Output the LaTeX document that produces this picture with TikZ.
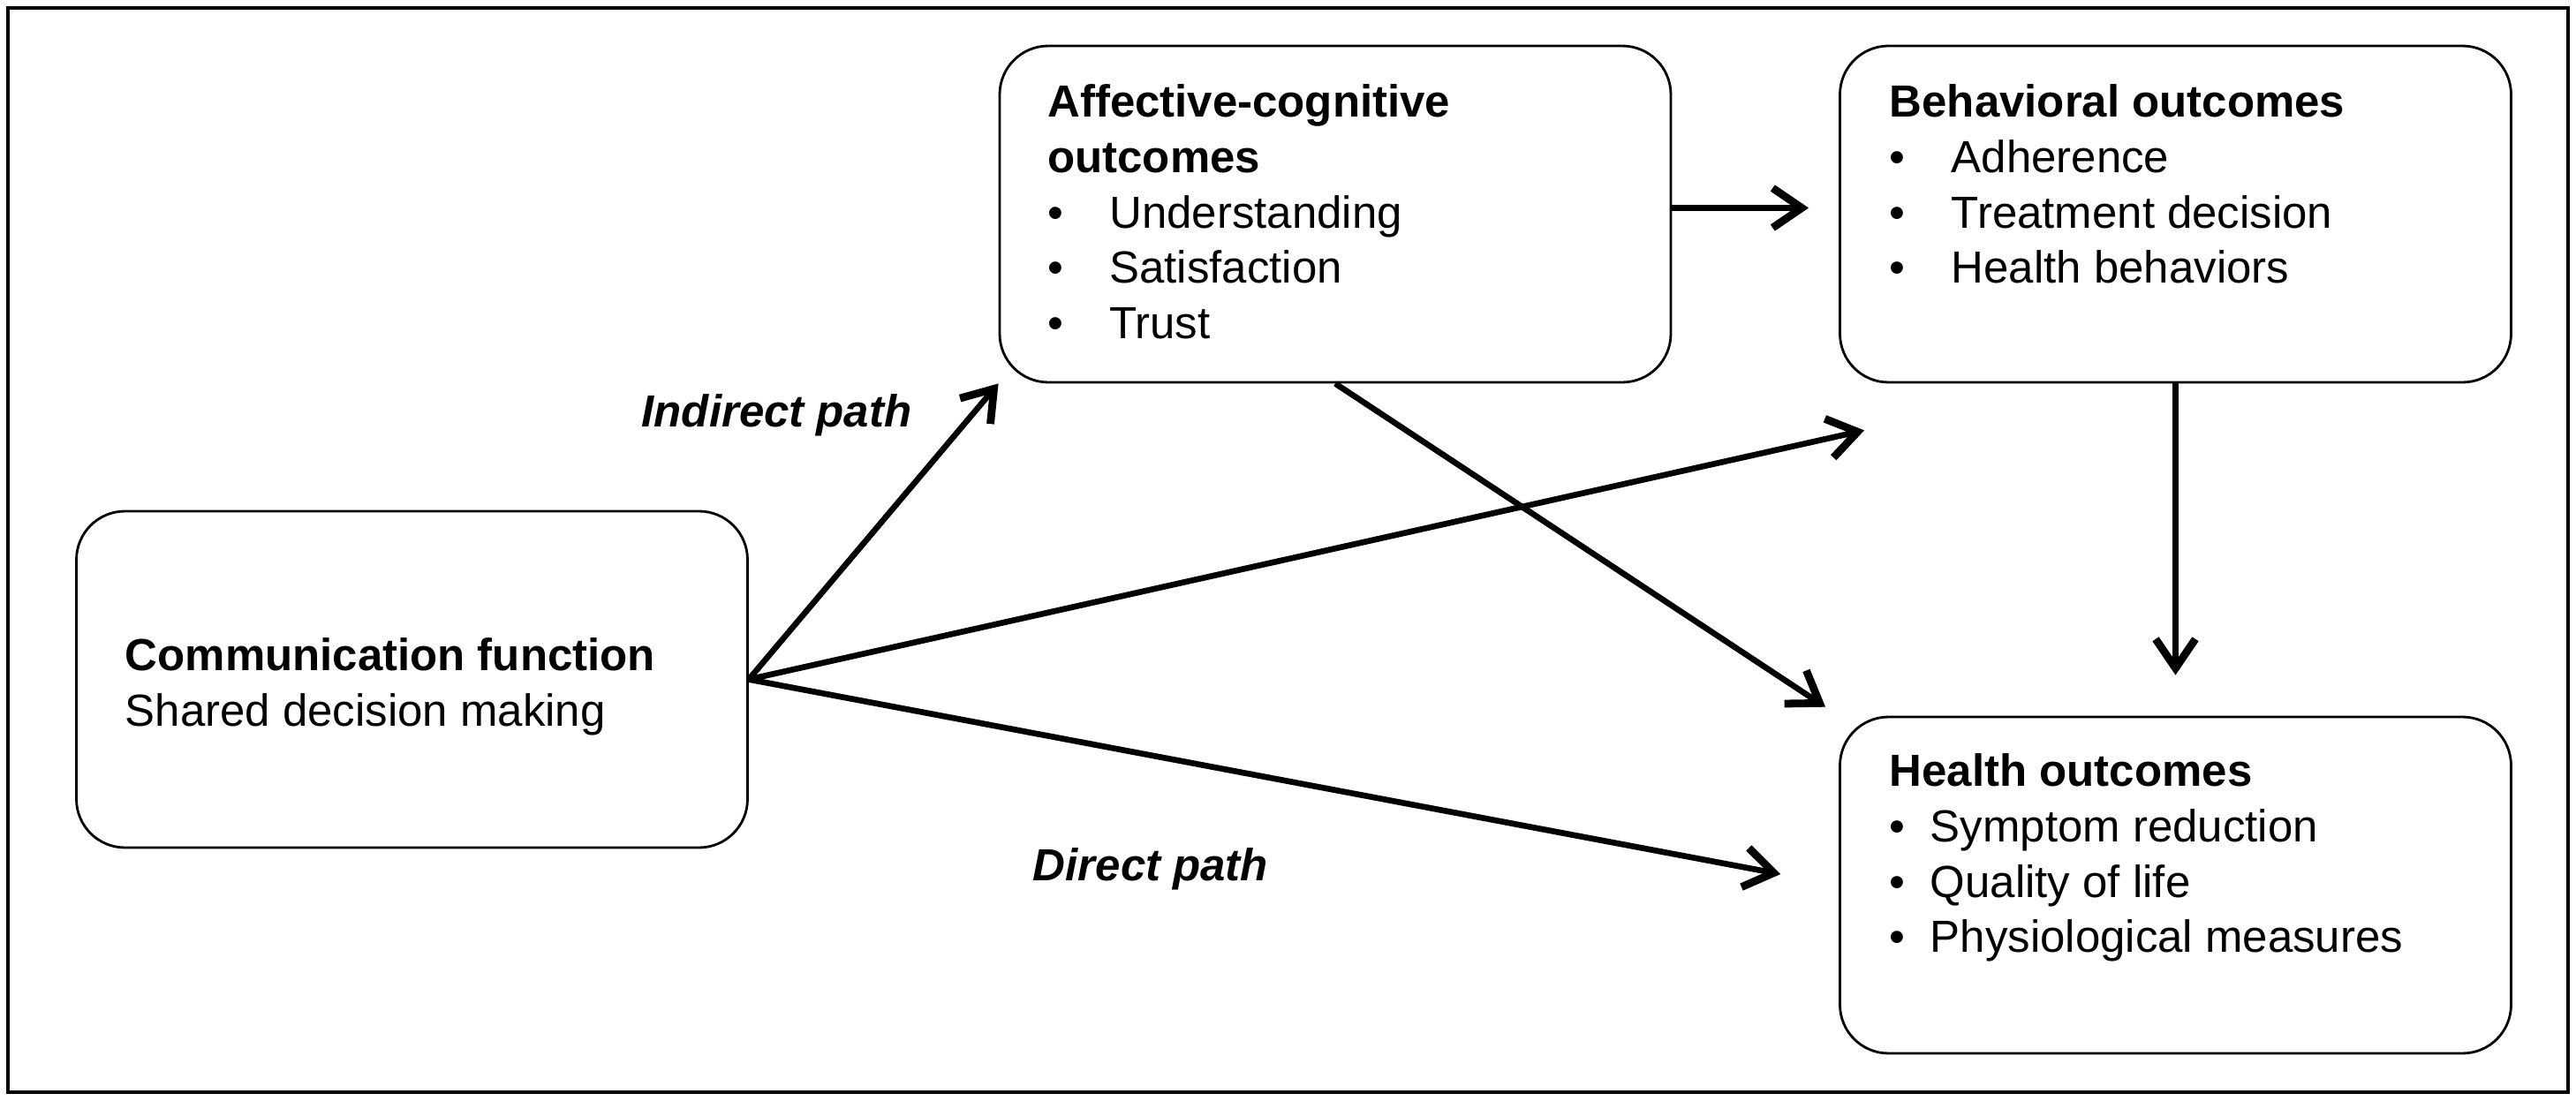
\documentclass[tikz,border=0pt]{standalone}
\usepackage{fontspec}
\setmainfont{Liberation Sans}
\usepackage{tikz}
\usetikzlibrary{arrows.meta,positioning,calc}
\newcommand{\itm}[2][0.70cm]{\makebox[#1][l]{\textbullet}#2}

\begin{document}
\begin{tikzpicture}[
    box/.style={draw,line width=0.8pt,rounded corners=0.55cm,
                minimum width=7.6cm,minimum height=3.81cm,inner sep=0pt},
    boxtext/.style={font=\fontsize{14.5}{17.9}\selectfont,inner sep=0pt,align=left},
    lbl/.style={font=\fontsize{14.5}{17.9}\selectfont\bfseries\itshape,inner sep=0pt},
    link/.style={line width=1.9pt,
                 -{Straight Barb[length=3.3mm,width=4.5mm,line width=2.5pt]}}
  ]
      \useasboundingbox (0,0) rectangle (29.17,-12.47);
      \draw[line width=1.4pt] (0.09,-0.09) rectangle (29.08,-12.37);
      % boxes
      \node[box] (comm) at (4.665,-7.695) {};
      \node[box] (aff) at (15.12,-2.425) {};
      \node[box] (beh) at (24.635,-2.425) {};
      \node[box] (hea) at (24.635,-10.025) {};
      \node[boxtext,right=0.56cm of comm.west,yshift=-0.08cm] (commtext)
        {\textbf{Communication function}\\Shared decision making};
      \node[boxtext,below right=0.44cm and 0.55cm of aff.north west] (afftext)
        {\textbf{Affective-cognitive}\\\textbf{outcomes}\\
         \itm{Understanding}\\\itm{Satisfaction}\\\itm{Trust}};
      \node[boxtext,below right=0.44cm and 0.57cm of beh.north west] (behtext)
        {\textbf{Behavioral outcomes}\\\itm{Adherence}\\
         \itm{Treatment decision}\\\itm{Health behaviors}};
      \node[boxtext,below right=0.42cm and 0.57cm of hea.north west] (heatext)
        {\textbf{Health outcomes}\\\itm[0.46cm]{Symptom reduction}\\
         \itm[0.46cm]{Quality of life}\\\itm[0.46cm]{Physiological measures}};
      % path labels
      \node[lbl,anchor=base] (indirect) at (8.795,-4.83) {Indirect path};
      \node[lbl,anchor=base] (direct) at (13.03,-9.97) {Direct path};
      % connectors
      \coordinate (behin) at ([shift={(0.29,-0.53)}]beh.south west);
      \draw[link] (comm.east) -- (aff.south west);
      \draw[link] (comm.east) -- (behin);
      \draw[link,shorten >=0.67cm] (comm.east) -- (hea.west);
      \draw[link,shorten >=0.18cm] (aff.south) -- (hea.north west);
      \draw[link,shorten >=0.34cm] ([yshift=0.07cm]aff.east) -- ([yshift=0.07cm]beh.west);
      \draw[link,shorten >=0.46cm] (beh.south) -- (hea.north);
    \end{tikzpicture}
\end{document}
